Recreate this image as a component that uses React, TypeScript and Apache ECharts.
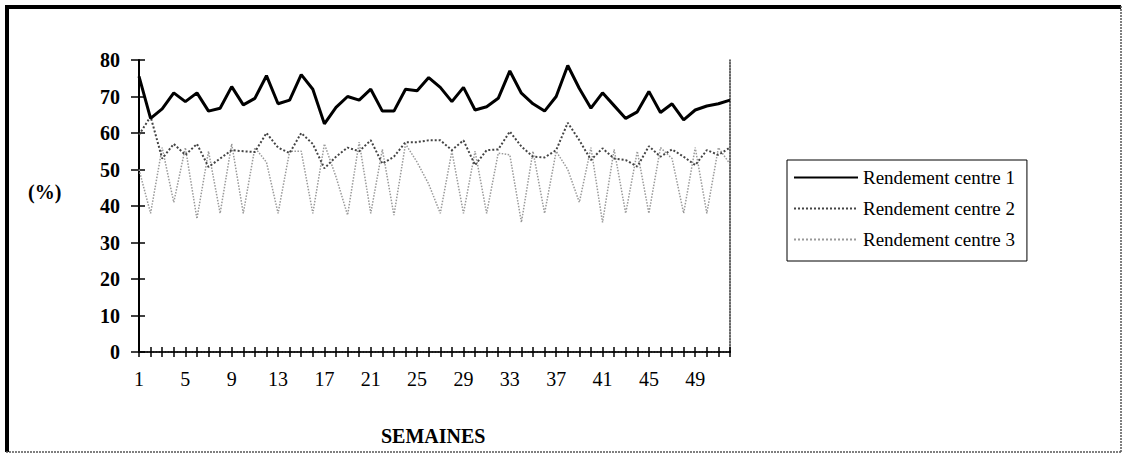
import React, { useEffect, useRef } from "react";
import * as echarts from "echarts";

const weeks: string[] = Array.from({ length: 52 }, (_, i) => String(i + 1));

const centre1: number[] = [
  75.5, 64, 66.6, 71, 68.6, 71, 66, 66.8, 72.7, 67.7, 69.5, 75.7, 68,
  69, 76, 72, 62.5, 67, 70, 69, 72, 66, 66, 72, 71.6, 75.2,
  72.5, 68.6, 72.5, 66.3, 67.2, 69.5, 77, 70.9, 68, 66, 70, 78.5, 72.2,
  66.8, 71, 67.5, 64, 65.8, 71.4, 65.6, 68, 63.6, 66.3, 67.4, 68, 69,
];

const centre2: number[] = [
  59.5, 64.5, 53, 57, 54, 57, 50.7, 53, 55.3, 55, 54.8, 60, 56,
  54.5, 60, 57, 50.3, 53.5, 56, 55, 58, 51.6, 53.5, 57.5, 57.5, 58,
  58, 55.3, 58, 51.2, 55.3, 55.5, 60.4, 56.3, 53.5, 53.3, 55.3, 62.8, 58,
  52.6, 55.8, 53, 52.6, 50.8, 56.4, 53.5, 55.5, 53.5, 51.2, 55.3, 54, 56,
];

const centre3: number[] = [
  50, 38, 56, 41, 56, 36.5, 55, 38, 57, 38, 56, 52, 38,
  55, 55, 38, 57, 48, 37.5, 57.5, 38, 55.5, 37.5, 57, 52, 46,
  38, 55, 38, 55, 38, 54.5, 54, 35.5, 55, 38, 55, 50, 41,
  56, 35.5, 55.5, 38, 55, 38, 56, 53, 38, 56, 38, 56, 51.5,
];

const seriesNames: string[] = [
  "Rendement centre 1",
  "Rendement centre 2",
  "Rendement centre 3",
];

const FONT = "'Liberation Serif', 'Times New Roman', serif";

export default function App() {
  const ref = useRef<HTMLDivElement>(null);

  useEffect(() => {
    if (!ref.current) return;
    const chart = echarts.init(ref.current, undefined, { renderer: "svg" });

    const baseX = {
      type: "category" as const,
      data: weeks,
      boundaryGap: false,
      gridIndex: 0,
    };

    chart.setOption({
      animation: false,
      backgroundColor: "#fff",
      grid: { left: 139, top: 60, right: 398, bottom: 103, show: false },
      legend: {
        orient: "vertical",
        left: 787,
        top: 160,
        padding: [8, 12, 12, 6],
        itemGap: 12,
        itemWidth: 64,
        itemHeight: 14,
        borderColor: "#000",
        borderWidth: 1,
        itemStyle: { opacity: 0 },
        textStyle: { fontFamily: FONT, fontSize: 19, color: "#000" },
        data: seriesNames,
      },
      xAxis: [
        {
          ...baseX,
          position: "bottom",
          axisLine: { show: true, lineStyle: { color: "#000", width: 2 } },
          axisTick: {
            show: true,
            interval: 0,
            inside: false,
            length: 5,
            lineStyle: { color: "#000", width: 1.5 },
          },
          axisLabel: {
            interval: 3,
            margin: 17,
            fontFamily: FONT,
            fontSize: 20,
            color: "#000",
          },
          splitLine: { show: false },
        },
        {
          ...baseX,
          position: "bottom",
          axisLine: { show: false },
          axisTick: {
            show: true,
            interval: 0,
            inside: true,
            length: 5,
            lineStyle: { color: "#000", width: 1.5 },
          },
          axisLabel: { show: false },
          splitLine: { show: false },
        },
        {
          ...baseX,
          position: "top",
          axisLine: {
            show: true,
            lineStyle: { color: "#333", width: 1.5, type: "dotted" },
          },
          axisTick: { show: false },
          axisLabel: { show: false },
          splitLine: { show: false },
        },
      ],
      yAxis: [
        {
          type: "value",
          min: 0,
          max: 80,
          interval: 10,
          position: "left",
          axisLine: { show: true, lineStyle: { color: "#000", width: 2 } },
          axisTick: {
            show: true,
            inside: false,
            length: 8,
            lineStyle: { color: "#000", width: 1.5 },
          },
          axisLabel: {
            margin: 19,
            fontFamily: FONT,
            fontSize: 20,
            fontWeight: "bold",
            color: "#000",
          },
          splitLine: { show: false },
        },
        {
          type: "value",
          min: 0,
          max: 80,
          interval: 10,
          position: "left",
          axisLine: { show: false },
          axisTick: {
            show: true,
            inside: true,
            length: 6,
            lineStyle: { color: "#000", width: 1.5 },
          },
          axisLabel: { show: false },
          splitLine: { show: false },
        },
        {
          type: "value",
          min: 0,
          max: 80,
          interval: 10,
          position: "right",
          axisLine: {
            show: true,
            lineStyle: { color: "#333", width: 1.5, type: "dotted" },
          },
          axisTick: { show: false },
          axisLabel: { show: false },
          splitLine: { show: false },
        },
      ],
      series: [
        {
          name: seriesNames[0],
          type: "line",
          data: centre1,
          symbol: "none",
          lineStyle: { color: "#000", width: 3 },
          itemStyle: { color: "#000" },
          z: 3,
        },
        {
          name: seriesNames[1],
          type: "line",
          data: centre2,
          symbol: "none",
          lineStyle: { color: "#444", width: 2, type: "dotted" },
          itemStyle: { color: "#444" },
          z: 2,
        },
        {
          name: seriesNames[2],
          type: "line",
          data: centre3,
          symbol: "none",
          lineStyle: { color: "#999", width: 1.5, type: "dotted" },
          itemStyle: { color: "#999" },
          z: 1,
        },
      ],
      graphic: [
        {
          type: "line",
          shape: { x1: 5, y1: 7, x2: 1121, y2: 7 },
          style: { stroke: "#000", lineWidth: 4 },
        },
        {
          type: "line",
          shape: { x1: 7, y1: 5, x2: 7, y2: 452 },
          style: { stroke: "#000", lineWidth: 4 },
        },
        {
          type: "line",
          shape: { x1: 1121, y1: 6, x2: 1121, y2: 452 },
          style: { stroke: "#555", lineWidth: 1.5, lineDash: [2, 1] },
        },
        {
          type: "line",
          shape: { x1: 6, y1: 452, x2: 1121, y2: 452 },
          style: { stroke: "#555", lineWidth: 1.5, lineDash: [2, 1] },
        },
        {
          type: "text",
          left: 28,
          top: 182,
          style: {
            text: "(%)",
            font: `bold 20px ${FONT}`,
            fill: "#000",
          },
        },
        {
          type: "text",
          left: 381,
          top: 426,
          style: {
            text: "SEMAINES",
            font: `bold 20px ${FONT}`,
            fill: "#000",
          },
        },
      ],
    });

    return () => chart.dispose();
  }, []);

  return (
    <div
      ref={ref}
      style={{ position: "absolute", left: 0, top: 0, width: 1128, height: 455 }}
    />
  );
}
